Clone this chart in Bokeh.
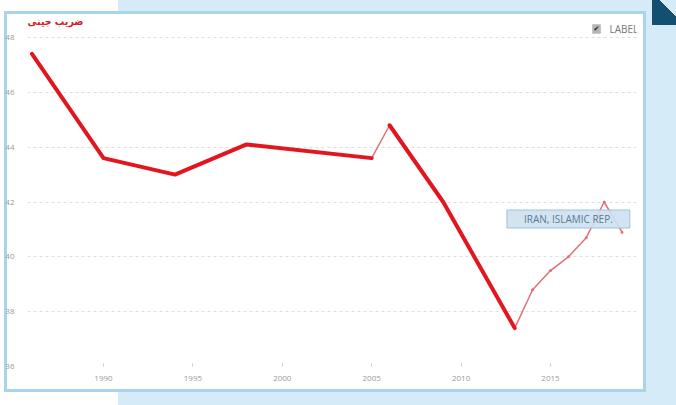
from bokeh.plotting import figure
from bokeh.models import (ColumnDataSource, Range1d, FixedTicker, BoxAnnotation, Label)
from bokeh.embed import file_html
from bokeh.resources import INLINE

# ---- data ----
years = [1986, 1990, 1994, 1998, 2005, 2006, 2009, 2013, 2014, 2015, 2016, 2017, 2018, 2019]
gini = [47.4, 43.6, 43.0, 44.1, 43.6, 44.8, 42.0, 37.4, 38.8, 39.5, 40.0, 40.7, 42.0, 40.9]
thick_a = (0, 5)     # 1986-2005
thick_b = (5, 8)     # 2006-2013
thin_a = (4, 6)      # 2005-2006
thin_b = (7, 14)     # 2013-2019
x_ticks = [1990, 1995, 2000, 2005, 2010, 2015]
y_ticks = [36, 38, 40, 42, 44, 46, 48]
title_text = "ضریب جینی"
series_name = "IRAN, ISLAMIC REP."
legend_text = "LABEL"

RED = "#e3161f"
PINK = "#e0707a"
X0, X1 = 1985.75, 2019.81
Y0, Y1 = 36, 48.985

p = figure(width=676, height=405, output_backend="svg", toolbar_location=None,
           x_range=Range1d(X0, X1), y_range=Range1d(Y0, Y1),
           min_border_left=27, min_border_right=40, min_border_top=10,
           min_border_bottom=39)
p.background_fill_color = None
p.border_fill_color = None
p.outline_line_color = None

# page decorations through CSS backgrounds
p.styles = {
    "background-color": "white",
    "background-image": ("linear-gradient(225deg, transparent 11.5px, #13506f 11.5px), "
                         "linear-gradient(white, white), "
                         "linear-gradient(#a9d4ec, #a9d4ec), "
                         "linear-gradient(#d5ebf8, #d5ebf8)"),
    "background-size": "24px 25px, 636px 375px, 642px 381px, 558px 405px",
    "background-position": "652px 0px, 7px 14px, 4px 11px, 118px 0px",
    "background-repeat": "no-repeat",
}

# grid & axes
p.xgrid.grid_line_color = None
p.ygrid.grid_line_color = "#dedede"
p.ygrid.grid_line_dash = "3 3"
p.ygrid.ticker = FixedTicker(ticks=y_ticks)
p.xaxis.ticker = FixedTicker(ticks=x_ticks)
p.yaxis.ticker = FixedTicker(ticks=y_ticks)
for ax in (p.xaxis[0], p.yaxis[0]):
    ax.axis_line_color = None
    ax.major_label_text_font = "Open Sans"
    ax.major_label_text_font_size = "8px"
    ax.major_label_text_color = "#9a9a9a"
    ax.minor_tick_line_color = None
p.xaxis.major_tick_line_color = "#cccccc"
p.xaxis.major_tick_in = 3
p.xaxis.major_tick_out = 0
p.xaxis.major_label_standoff = 9
p.yaxis.major_tick_line_color = None
p.yaxis.major_label_standoff = 7

# lines
def seg(a, b):
    return ColumnDataSource(dict(x=years[a:b], y=gini[a:b]))

p.line("x", "y", source=seg(*thin_a), line_color=PINK, line_width=1.5)
p.line("x", "y", source=seg(*thin_b), line_color=PINK, line_width=1.5)
p.scatter("x", "y", source=seg(thin_b[0] + 1, thin_b[1]), size=3,
          fill_color=PINK, line_color=None)
p.line("x", "y", source=seg(*thick_a), line_color=RED, line_width=4,
       line_join="round", line_cap="round")
p.line("x", "y", source=seg(*thick_b), line_color=RED, line_width=4,
       line_join="round", line_cap="round")

# title
p.add_layout(Label(x=X0, y=48.60, text=title_text, text_align="left",
                   text_baseline="middle", text_font="DejaVu Sans Condensed",
                   text_font_size="10.5px", text_font_style="bold",
                   text_color="#d7192a"))

# series label box
p.add_layout(Label(x=2016.0, y=41.38, text=series_name, text_align="center",
                   text_baseline="middle", text_font="Open Sans",
                   text_font_size="10px", text_color="#5b7a95",
                   background_fill_color="#cde1f0", background_fill_alpha=0.9,
                   border_line_color="#9fc1dc", padding=(17, 2)))

# legend-like checkbox
p.add_layout(BoxAnnotation(left=2017.35, right=2017.80, top=48.47, bottom=48.15,
                           fill_color="#b5b5b5", fill_alpha=1, line_color="#999999",
                           line_width=1))
p.add_layout(Label(x=2017.575, y=48.30, text="✔",
                   text_align="center", text_baseline="middle",
                   text_font="DejaVu Sans", text_font_size="7px", text_color="#222222"))
p.add_layout(Label(x=2018.30, y=48.31, text=legend_text,
                   text_align="left", text_baseline="middle",
                   text_font="Open Sans", text_font_size="10px", text_color="#777777"))

open("out.html", "w").write(file_html(p, INLINE))
